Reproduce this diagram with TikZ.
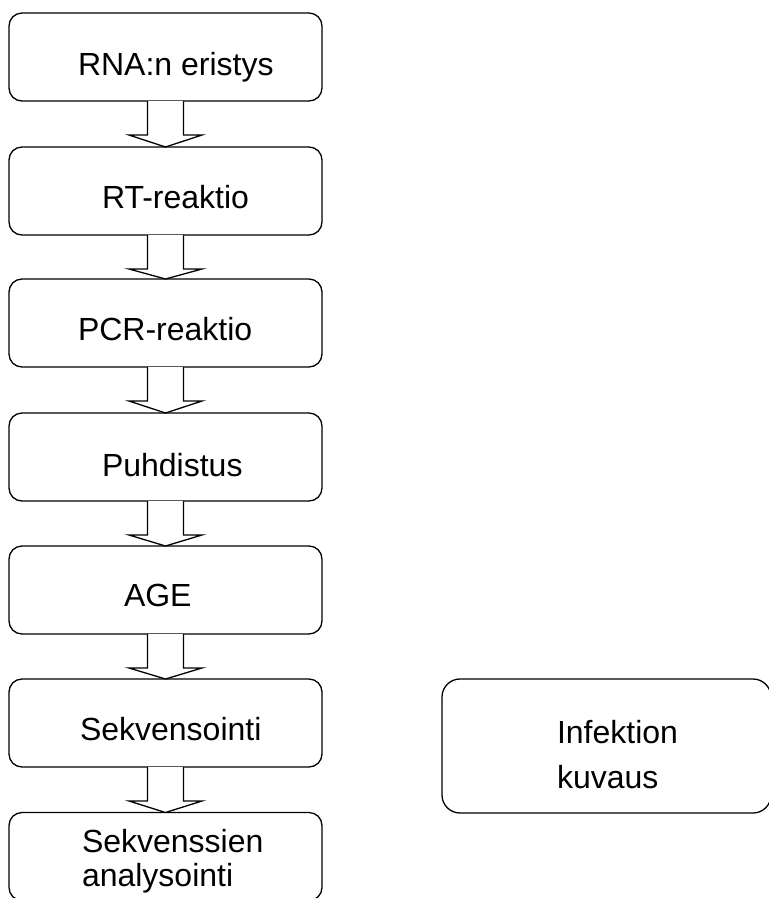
\documentclass[tikz,border=0pt]{standalone}
\usepackage{fontspec}
\setmainfont{Liberation Sans}
\usetikzlibrary{calc}
\tikzset{
  stepbox/.style={draw=black, line width=1.3pt, rounded corners=13pt, minimum width=313pt, minimum height=88pt, inner sep=0pt, outer sep=0pt},
  sidebox/.style={draw=black, line width=1.3pt, rounded corners=18pt, minimum width=329pt, minimum height=134pt, inner sep=0pt, outer sep=0pt},
  lbl/.style={anchor=base west, inner sep=0pt, outer sep=0pt, font=\fontsize{32}{34}\selectfont},
  blk/.style={draw=black, fill=white, line width=1.3pt, line join=miter},
}
\newcommand\blockarrow[2]{%
  \draw[blk] ($(#1.south)+(-18,0)$) -- ($(#1.south)+(-18,34)$) -- ($(#1.south)+(-36.5,34)$) -- (#2.north)
    -- ($(#1.south)+(36.5,34)$) -- ($(#1.south)+(18,34)$) -- ($(#1.south)+(18,0)$);}
\begin{document}
\begin{tikzpicture}[x=1pt,y=-1pt]
\useasboundingbox (0,0) rectangle (769,898);
\clip (0,0) rectangle (769,898);
\node[stepbox] (b1) at (165.5,57) {};
\node[stepbox] (b2) at (165.5,191) {};
\node[stepbox] (b3) at (165.5,323) {};
\node[stepbox] (b4) at (165.5,457) {};
\node[stepbox] (b5) at (165.5,590) {};
\node[stepbox] (b6) at (165.5,723) {};
\node[stepbox] (b7) at (165.5,856.5) {};
\node[sidebox] (inf) at (606.5,746) {};
\node[lbl] (t1) at (78,75) {RNA:n eristys};
\node[lbl] (t2) at (102,208) {RT-reaktio};
\node[lbl] (t3) at (78,340) {PCR-reaktio};
\node[lbl] (t4) at (102,476) {Puhdistus};
\node[lbl] (t5) at (124,606) {AGE};
\node[lbl] (t6) at (80,740) {Sekvensointi};
\node[lbl] (t7a) at (82,852) {Sekvenssien};
\node[lbl] (t7b) at (82,886) {analysointi};
\node[lbl] (i1) at (557,743) {Infektion};
\node[lbl] (i2) at (557,788) {kuvaus};
\blockarrow{b1}{b2}
\blockarrow{b2}{b3}
\blockarrow{b3}{b4}
\blockarrow{b4}{b5}
\blockarrow{b5}{b6}
\blockarrow{b6}{b7}
\end{tikzpicture}
\end{document}
